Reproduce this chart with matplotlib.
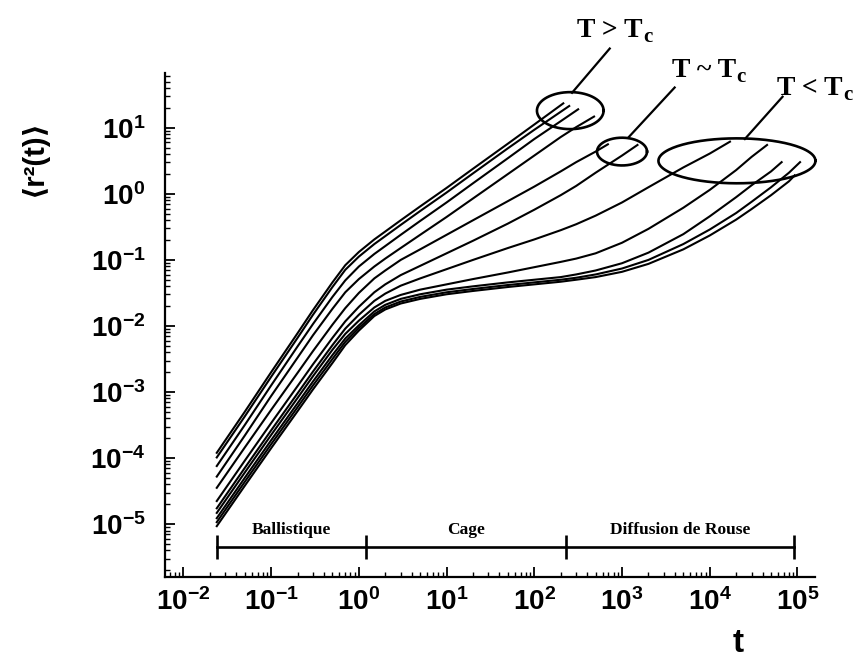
import numpy as np
import matplotlib
matplotlib.use("Agg")
import matplotlib.pyplot as plt
from matplotlib.ticker import LogLocator, FuncFormatter, NullFormatter, FixedLocator

plt.rcParams.update({
    "mathtext.fontset": "custom",
    "mathtext.rm": "Liberation Sans:bold",
    "mathtext.it": "Liberation Sans:bold",
    "mathtext.bf": "Liberation Sans:bold",
    "mathtext.default": "rm",
})
plt.rcParams["font.family"] = ["Liberation Sans", "DejaVu Sans"]

# Common time grid
t = [0.024, 0.05, 0.1, 0.2, 0.3, 0.5, 0.7, 1, 1.5, 2, 3, 5, 10, 20, 50, 100,
     200, 300, 500, 1000, 2000, 5000, 1e4, 2e4, 3e4, 5e4, 8e4]

# log10 <r^2(t)> for each temperature, on the grid above (hot -> cold)
log_msd_A1 = [-3.92, -3.30, -2.70, -2.11, -1.76, -1.34, -1.08, -0.88, -0.69, -0.57,
              -0.40, -0.19, 0.09, 0.38, 0.76, 1.05]
log_msd_A2 = [-3.99, -3.37, -2.77, -2.18, -1.83, -1.41, -1.15, -0.95, -0.76, -0.64,
              -0.47, -0.26, 0.02, 0.31, 0.69, 0.97]
log_msd_A3 = [-4.12, -3.50, -2.90, -2.31, -1.97, -1.56, -1.31, -1.10, -0.91, -0.79,
              -0.62, -0.41, -0.13, 0.16, 0.54, 0.83, 1.10]
log_msd_A4 = [-4.28, -3.66, -3.06, -2.48, -2.14, -1.74, -1.49, -1.29, -1.10, -0.98,
              -0.82, -0.62, -0.35, -0.07, 0.30, 0.58, 0.86, 1.01]
log_msd_B1 = [-4.45, -3.84, -3.27, -2.71, -2.38, -1.98, -1.73, -1.50, -1.28, -1.16,
              -1.00, -0.84, -0.62, -0.40, -0.11, 0.11, 0.34, 0.48, 0.64]
log_msd_B2 = [-4.65, -4.04, -3.47, -2.91, -2.58, -2.18, -1.93, -1.71, -1.49, -1.37,
              -1.23, -1.09, -0.90, -0.71, -0.45, -0.24, -0.02, 0.12, 0.32, 0.58]
log_msd_C1 = [-4.76, -4.15, -3.58, -3.02, -2.69, -2.29, -2.04, -1.83, -1.62, -1.51,
              -1.39, -1.28, -1.14, -1.00, -0.82, -0.69, -0.55, -0.46, -0.33, -0.13,
              0.10, 0.40, 0.61]
log_msd_C2 = [-4.83, -4.22, -3.65, -3.09, -2.76, -2.36, -2.12, -1.92, -1.72, -1.62,
              -1.53, -1.45, -1.37, -1.29, -1.19, -1.11, -1.03, -0.98, -0.90, -0.74,
              -0.53, -0.21, 0.06, 0.36, 0.56]
log_msd_C3 = [-4.91, -4.30, -3.73, -3.17, -2.84, -2.44, -2.19, -1.99, -1.78, -1.68,
              -1.59, -1.52, -1.45, -1.40, -1.34, -1.30, -1.26, -1.22, -1.16, -1.05,
              -0.89, -0.61, -0.34, -0.05, 0.13, 0.34]
log_msd_C4 = [-4.97, -4.36, -3.79, -3.23, -2.90, -2.50, -2.24, -2.03, -1.82, -1.72,
              -1.63, -1.56, -1.49, -1.44, -1.38, -1.34, -1.30, -1.27, -1.22, -1.13,
              -1.00, -0.76, -0.54, -0.29, -0.12, 0.10, 0.32]
log_msd_C5 = [-5.03, -4.42, -3.85, -3.29, -2.96, -2.56, -2.29, -2.07, -1.85, -1.75,
              -1.66, -1.59, -1.52, -1.47, -1.41, -1.37, -1.33, -1.30, -1.26, -1.18,
              -1.06, -0.84, -0.63, -0.39, -0.23, -0.02, 0.19]

# last point of each curve
t_end = [214, 250, 316, 480, 690, 1500, 1.7e4, 4.5e4, 6.6e4, 1.07e5, 9.3e4]
log_msd_end = [1.37, 1.33, 1.28, 1.17, 0.75, 0.74, 0.79, 0.74, 0.48, 0.48, 0.28]

curves = [log_msd_A1, log_msd_A2, log_msd_A3, log_msd_A4, log_msd_B1, log_msd_B2,
          log_msd_C1, log_msd_C2, log_msd_C3, log_msd_C4, log_msd_C5]

# dynamical regimes
phase_names = ["Ballistique", "Cage", "Diffusion de Rouse"]
phase_edges = [0.024, 1.2, 230, 9.1e4]
phase_level = 4.5e-6

# temperature groups
group_labels = ["T > T", "T ~ T", "T < T"]

# decade ticks
x_ticks = [1e-2, 1e-1, 1e0, 1e1, 1e2, 1e3, 1e4, 1e5]
y_ticks = [1e-5, 1e-4, 1e-3, 1e-2, 1e-1, 1e0, 1e1]

fig = plt.figure(figsize=(8.58, 6.58), dpi=100)
ax = fig.add_axes([0.1923, 0.1231, 0.7576, 0.766])
ax.set_xscale("log")
ax.set_yscale("log")
ax.set_xlim(10 ** -2.21, 10 ** 5.2)
ax.set_ylim(10 ** -5.80, 10 ** 1.83)

for logs, te, le in zip(curves, t_end, log_msd_end):
    n = len(logs)
    xs = list(t[:n]) + [te]
    ys = [10 ** v for v in logs] + [10 ** le]
    ax.plot(xs, ys, color="black", lw=1.5, solid_joinstyle="round")

# group ellipses (centre and half-axes in decades)
def log_ellipse(lt_c, lr_c, a, b):
    th = np.linspace(0, 2 * np.pi, 200)
    ax.plot(10 ** (lt_c + a * np.cos(th)), 10 ** (lr_c + b * np.sin(th)),
            color="black", lw=1.9, clip_on=False)

log_ellipse(2.41, 1.26, 0.38, 0.28)
log_ellipse(3.00, 0.64, 0.285, 0.21)
log_ellipse(4.31, 0.50, 0.895, 0.34)

# leader lines and group labels
leaders = [((2.43, 1.53), (2.86, 2.20)),
           ((3.07, 0.85), (3.60, 1.61)),
           ((4.40, 0.83), (4.83, 1.47))]
label_pos = [(2.49, 2.38), (3.57, 1.77), (4.77, 1.50)]
serif = dict(family="Liberation Serif", weight="bold", color="black")
for (p0, p1), (lx, ly), txt in zip(leaders, label_pos, group_labels):
    ax.plot([10 ** p0[0], 10 ** p1[0]], [10 ** p0[1], 10 ** p1[1]],
            color="black", lw=1.6, clip_on=False)
    main = ax.text(10 ** lx, 10 ** ly, txt, ha="left", va="baseline",
                   fontsize=20, clip_on=False, **serif)
    ax.annotate("c", xy=(1, 0), xycoords=main, xytext=(0.3, -3),
                textcoords="offset points", ha="left", va="bottom",
                fontsize=15, **serif)

# regime bar
ax.plot(phase_edges, [phase_level] * len(phase_edges), color="black", lw=1.9,
        marker="|", ms=17, mew=1.9)
for i, name in enumerate(phase_names):
    xc = np.sqrt(phase_edges[i] * phase_edges[i + 1])
    ax.annotate(name, (xc, phase_level), xytext=(0, 12), textcoords="offset points",
                ha="center", va="center", fontsize=12.5, **serif)

# axes styling
for side in ("top", "right"):
    ax.spines[side].set_visible(False)
for side in ("left", "bottom"):
    ax.spines[side].set_linewidth(1.6)

fmt = FuncFormatter(lambda v, pos: r"$10^{%d}$" % int(round(np.log10(v))))
ax.xaxis.set_major_locator(FixedLocator(x_ticks))
ax.yaxis.set_major_locator(FixedLocator(y_ticks))
ax.xaxis.set_minor_locator(LogLocator(base=10, subs=np.arange(2, 10), numticks=20))
ax.yaxis.set_minor_locator(LogLocator(base=10, subs=np.arange(2, 10), numticks=20))
ax.xaxis.set_major_formatter(fmt)
ax.yaxis.set_major_formatter(fmt)
ax.xaxis.set_minor_formatter(NullFormatter())
ax.yaxis.set_minor_formatter(NullFormatter())
ax.tick_params(which="major", direction="in", length=7, width=1.3, labelsize=20)
ax.tick_params(which="minor", direction="in", length=3.5, width=1.0)
ax.tick_params(axis="x", which="major", pad=8)
ax.tick_params(axis="y", which="major", pad=14)

fig.text(34 / 858, 1 - 158 / 658, "\u27e8r\u00b2(t)\u27e9", rotation=90, ha="center",
         va="center", fontsize=21, weight="bold")
fig.text(738 / 858, 1 - 643 / 658, "t", ha="center", va="center", fontsize=24,
         weight="bold")

fig.savefig("out.png", dpi=100, facecolor="white")
